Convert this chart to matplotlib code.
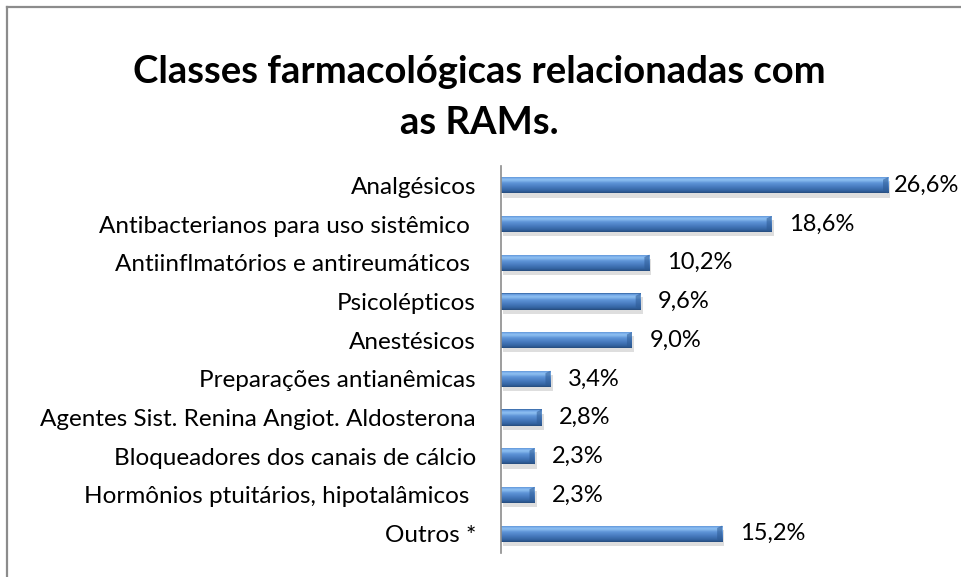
import numpy as np
import matplotlib
matplotlib.use("Agg")
import matplotlib.pyplot as plt
from matplotlib.colors import to_rgb
from matplotlib.lines import Line2D
import matplotlib.patheffects as pe

categories = [
    "Analgésicos",
    "Antibacterianos para uso sistêmico ",
    "Antiinflmatórios e antireumáticos ",
    "Psicolépticos",
    "Anestésicos",
    "Preparações antianêmicas",
    "Agentes Sist. Renina Angiot. Aldosterona",
    "Bloqueadores dos canais de cálcio",
    "Hormônios ptuitários, hipotalâmicos ",
    "Outros *",
]
values = [26.6, 18.6, 10.2, 9.6, 9.0, 3.4, 2.8, 2.3, 2.3, 15.2]
value_labels = ["26,6%", "18,6%", "10,2%", "9,6%", "9,0%", "3,4%", "2,8%", "2,3%", "2,3%", "15,2%"]
title_lines = ["Classes farmacológicas relacionadas com", "as RAMs."]

plt.rcParams['font.family'] = ['Lato', 'DejaVu Sans']

W, H = 961, 577
fig = plt.figure(figsize=(W / 100, H / 100), dpi=100)
fig.patch.set_facecolor("white")

# chart border (top and left visible)
fig.add_artist(Line2D([6.5 / W, 6.5 / W], [0, 1 - 7 / H], transform=fig.transFigure,
                      color="#8c8c8c", lw=1.6))
fig.add_artist(Line2D([6.5 / W, 1], [1 - 7 / H, 1 - 7 / H], transform=fig.transFigure,
                      color="#8c8c8c", lw=1.6))

fig.text(479 / W, 1 - 72 / H, title_lines[0],
         ha="center", va="center", fontsize=27.5, fontweight="bold", color="black")
fig.text(479 / W, 1 - 123 / H, title_lines[1],
         ha="center", va="center", fontsize=27.5, fontweight="bold", color="black")

ax_left, ax_right = 501 / W, 901 / W
ax_top, ax_bottom = 1 - 166 / H, 1 - 553 / H
ax = fig.add_axes([ax_left, ax_bottom, ax_right - ax_left, ax_top - ax_bottom])
ax.set_facecolor("none")

y = np.arange(len(categories))
bar_h = 0.42
bars = ax.barh(y, values, height=bar_h, color="#4a7fc2", edgecolor="none", zorder=2)
for b in bars:
    b.set_path_effects([pe.SimplePatchShadow(offset=(1.5, -3), shadow_rgbFace="#000000", alpha=0.13),
                        pe.Normal()])

# vertical gradient to imitate Excel's bevelled bars
stops = [(0.0, "#2f5f9c"), (0.08, "#6fa5e6"), (0.22, "#8fc0f2"), (0.4, "#5f95d8"),
         (0.65, "#4679bd"), (0.88, "#32629f"), (1.0, "#264c7c")]
n = 64
t = np.linspace(0, 1, n)
pos = [s[0] for s in stops]
cols = np.array([to_rgb(s[1]) for s in stops])
grad = np.stack([np.interp(t, pos, cols[:, k]) for k in range(3)], axis=-1)[:, None, :]

xmax = 400 / 14.55
for b in bars:
    x0, y0, w, h = b.get_x(), b.get_y(), b.get_width(), b.get_height()
    im = ax.imshow(grad, extent=(x0, x0 + w, y0 + h, y0), aspect="auto",
                   origin="upper", zorder=3, interpolation="bilinear")
    im.set_clip_path(b)
    # darker chamfer at the right end
    endw = 5 / 14.55
    ax.fill([x0 + w - endw, x0 + w, x0 + w, x0 + w - endw],
            [y0 + h * 0.15, y0, y0 + h, y0 + h * 0.85],
            color="#2d5a94", alpha=0.55, zorder=4, lw=0)

ax.set_xlim(0, xmax)
ax.set_ylim(len(categories) - 0.5, -0.5)

ax.set_yticks(y)
ax.set_yticklabels(categories, fontsize=17.5)
ax.tick_params(axis="y", length=0, pad=18)
ax.set_xticks([])
for s in ["top", "right", "bottom"]:
    ax.spines[s].set_visible(False)
ax.spines["left"].set_color("#8c8c8c")
ax.spines["left"].set_linewidth(1.2)
ax.spines["left"].set_zorder(5)

for i, (v, lab) in enumerate(zip(values, value_labels)):
    pad = 4.5 if v > xmax * 0.9 else 12.5
    ax.annotate(lab, (v, i), xytext=(pad, 0), textcoords="offset points",
                ha="left", va="center", fontsize=17, color="black", annotation_clip=False)

fig.savefig("out.png", dpi=100, facecolor="white")
